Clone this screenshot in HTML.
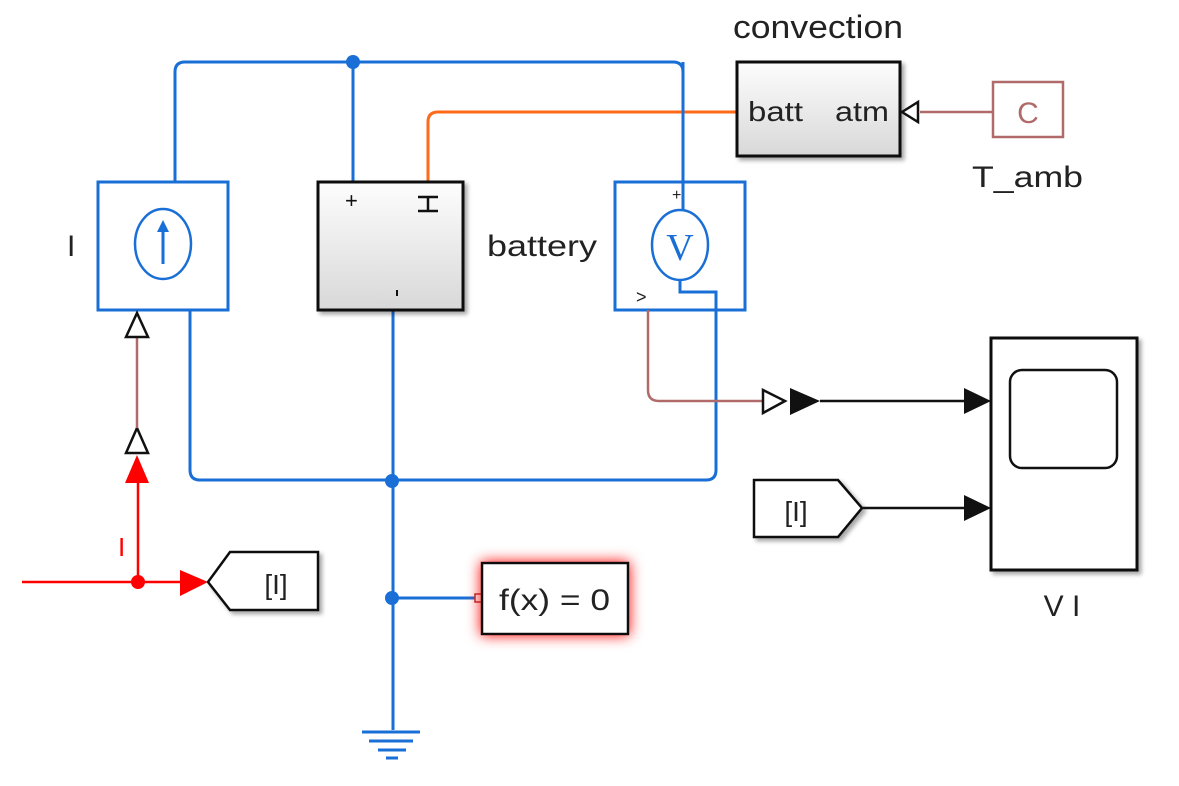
<!DOCTYPE html>
<html><head><meta charset="utf-8"><style>
body{margin:0;background:#fff}
svg{display:block;font-family:"Liberation Sans",sans-serif}
</style></head><body>
<svg width="1179" height="786" viewBox="0 0 1179 786" xmlns="http://www.w3.org/2000/svg">
<defs>
<linearGradient id="g" x1="0" y1="0" x2="0" y2="1"><stop offset="0" stop-color="#fdfdfd"/><stop offset="1" stop-color="#d8d8d8"/></linearGradient>
<filter id="sh" x="-20%" y="-20%" width="150%" height="150%"><feDropShadow dx="3" dy="3" stdDeviation="2" flood-color="#000" flood-opacity="0.35"/></filter>
<filter id="glow" x="-30%" y="-50%" width="160%" height="200%"><feDropShadow dx="0" dy="0" stdDeviation="7" flood-color="#ff0000" flood-opacity="1"/></filter>
</defs>
<g fill="none" stroke="#1a6fd6" stroke-width="3">
<path d="M175 182 V72 Q175 62 185 62 H673 Q683 62 683 72 V210"/>
<path d="M353 62 V182"/>
<path d="M190 310 V470 Q190 480 200 480 H706 Q716 480 716 470 V296 H680 V280"/>
<path d="M393 310 V730"/>
<path d="M393 598 H476"/>
<path d="M362 732 H420 M369 741 H413 M378 750 H406 M386 758 H398"/>
</g>
<circle cx="353" cy="62" r="7" fill="#1a6fd6"/>
<circle cx="392" cy="481" r="7" fill="#1a6fd6"/>
<circle cx="392" cy="598" r="7" fill="#1a6fd6"/>
<path d="M428 182 V122 Q428 112 438 112 H738" fill="none" stroke="#ff6a1a" stroke-width="3"/>
<!-- current source -->
<rect x="98" y="182" width="130" height="128" fill="#fff" stroke="#1a6fd6" stroke-width="3"/>
<ellipse cx="163" cy="244" rx="28" ry="35" fill="none" stroke="#1a6fd6" stroke-width="2.5"/>
<path d="M163 264 V230" stroke="#1a6fd6" stroke-width="3"/><path d="M157 232 L163 220 L169 232Z" fill="#1a6fd6"/>
<text x="67" y="256" font-size="30" fill="#222">I</text>
<!-- battery -->
<rect x="318" y="182" width="145" height="128" fill="url(#g)" stroke="#111" stroke-width="3" filter="url(#sh)"/>
<text x="345" y="208" font-size="22" fill="#111">+</text>
<path d="M418 197 H438 M428 197 V211 M418 211 H438" stroke="#111" stroke-width="2.5"/>
<path d="M397 290 V296" stroke="#111" stroke-width="2"/>
<text x="487" y="256" font-size="30" fill="#222" textLength="110" lengthAdjust="spacingAndGlyphs">battery</text>
<!-- voltage sensor -->
<rect x="615" y="182" width="130" height="128" fill="#fff" stroke="#1a6fd6" stroke-width="3"/>
<ellipse cx="680" cy="245" rx="28" ry="35" fill="#fff" stroke="#1a6fd6" stroke-width="2.5"/>
<path d="M683 62 V210" stroke="#1a6fd6" stroke-width="3"/>
<path d="M680 280 V292 H716 V310" stroke="#1a6fd6" stroke-width="3" fill="none"/>
<text x="680" y="260" font-size="38" font-family="Liberation Serif" fill="#1a6fd6" text-anchor="middle">V</text>
<text x="672" y="200" font-size="16" fill="#222">+</text>
<text x="636" y="303" font-size="18" fill="#222">&gt;</text>
<!-- convection -->
<text x="733" y="38" font-size="32" fill="#222" textLength="170" lengthAdjust="spacingAndGlyphs">convection</text>
<rect x="737" y="62" width="163" height="94" fill="url(#g)" stroke="#111" stroke-width="3" filter="url(#sh)"/>
<text x="748" y="121" font-size="28" fill="#222" textLength="55" lengthAdjust="spacingAndGlyphs">batt</text>
<text x="835" y="121" font-size="28" fill="#222" textLength="54" lengthAdjust="spacingAndGlyphs">atm</text>
<path d="M902 112 L918 102 V122 Z" fill="#fff" stroke="#111" stroke-width="2.5"/>
<path d="M920 112 H993" stroke="#b06a6a" stroke-width="2.5"/>
<rect x="993" y="82" width="70" height="55" fill="#fff" stroke="#b06a6a" stroke-width="2.5"/>
<text x="1028" y="123" font-size="30" fill="#b06a6a" text-anchor="middle">C</text>
<text x="972" y="187" font-size="30" fill="#222" textLength="111" lengthAdjust="spacingAndGlyphs">T_amb</text>
<!-- red signal -->
<path d="M22 582 H190" stroke="#f00" stroke-width="2.5"/>
<path d="M138 582 V470" stroke="#f00" stroke-width="2.5"/>
<circle cx="138" cy="582" r="7" fill="#f00"/>
<path d="M180 570 L208 582 L180 596Z" fill="#f00"/>
<path d="M125 483 L137 455 L149 483Z" fill="#f00"/>
<path d="M126 453 L137 428 L148 453Z" fill="#fff" stroke="#111" stroke-width="2.5"/>
<path d="M137 428 V338" stroke="#b06a6a" stroke-width="2.5"/>
<path d="M126 337 L137 313 L148 337Z" fill="#fff" stroke="#111" stroke-width="2.5"/>
<text x="118" y="556" font-size="26" fill="#f00">I</text>
<path d="M208 582 L230 552 H318 V610 H230 Z" fill="#fff" stroke="#111" stroke-width="2.5" filter="url(#sh)"/>
<text x="276" y="594" font-size="28" fill="#222" text-anchor="middle">[I]</text>
<!-- f(x)=0 -->
<rect x="475" y="594" width="7" height="8" fill="#fff" stroke="#a33" stroke-width="1.5"/>
<rect x="482" y="563" width="146" height="71" fill="#fff" stroke="#111" stroke-width="2.5" filter="url(#glow)"/>
<text x="499" y="610" font-size="30" fill="#222" textLength="111" lengthAdjust="spacingAndGlyphs">f(x) = 0</text>
<!-- sensor output -->
<path d="M648 310 V390 Q648 401 659 401 H762" fill="none" stroke="#b06a6a" stroke-width="2.5"/>
<path d="M763 390 L785 401 L763 413Z" fill="#fff" stroke="#111" stroke-width="2.5"/>
<path d="M790 388 L820 401 L790 415Z" fill="#111"/>
<path d="M820 401 H965" stroke="#111" stroke-width="2.5"/>
<path d="M964 388 L991 401 L964 414Z" fill="#111"/>
<path d="M754 480 H838 L862 508 L838 537 H754 Z" fill="#fff" stroke="#111" stroke-width="2.5" filter="url(#sh)"/>
<text x="796" y="521" font-size="28" fill="#222" text-anchor="middle">[I]</text>
<path d="M862 508 H965" stroke="#111" stroke-width="2.5"/>
<path d="M964 495 L991 508 L964 521Z" fill="#111"/>
<!-- scope -->
<rect x="991" y="338" width="146" height="232" fill="#fff" stroke="#111" stroke-width="3" filter="url(#sh)"/>
<rect x="1010" y="370" width="107" height="98" rx="12" fill="#fff" stroke="#111" stroke-width="2.5"/>
<text x="1062" y="616" font-size="30" fill="#222" text-anchor="middle">V I</text>
</svg>
</body></html>
